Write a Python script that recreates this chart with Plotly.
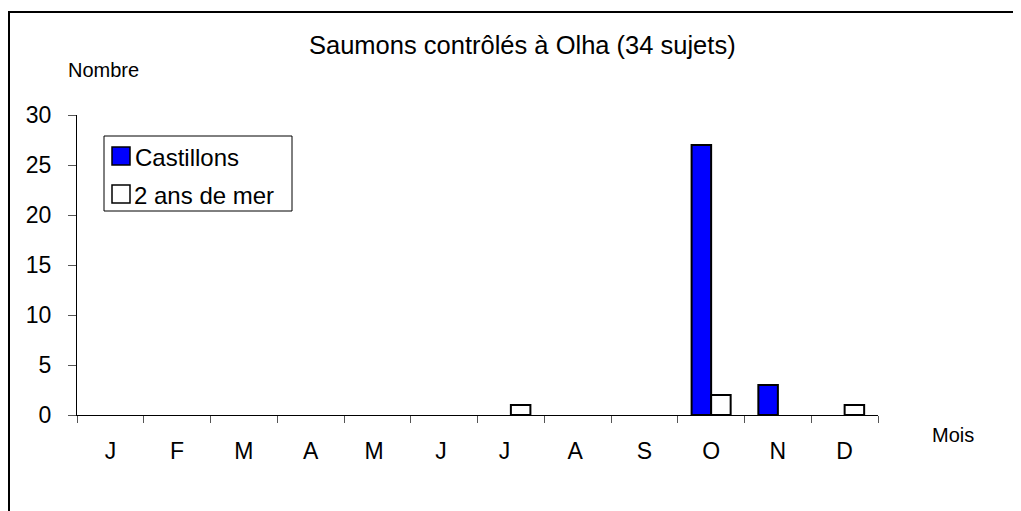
import plotly.graph_objects as go

MONTHS = ["J", "F", "M", "A", "M ", "J ", "J  ", "A ", "S", "O", "N", "D"]
CASTILLONS = [0, 0, 0, 0, 0, 0, 0, 0, 0, 27, 3, 0]
DEUX_ANS = [0, 0, 0, 0, 0, 0, 1, 0, 0, 2, 0, 1]

FONT = "Liberation Sans, Arial, sans-serif"

# plot area in page pixels: x 77..878, y 115..415
def px(x):
    return (x - 77) / 801


def py(y):
    return (415 - y) / 300


fig = go.Figure()
fig.add_trace(go.Bar(
    x=MONTHS, y=CASTILLONS, name="Castillons",
    marker=dict(color="#0000FF",
                line=dict(color="black", width=[2 if v else 0 for v in CASTILLONS])),
))
fig.add_trace(go.Bar(
    x=MONTHS, y=DEUX_ANS, name="2 ans de mer",
    marker=dict(color="white",
                line=dict(color="black", width=[2 if v else 0 for v in DEUX_ANS])),
))

# hand-drawn legend (larger swatches than plotly's)
legend_shapes = [
    dict(type="rect", xref="paper", yref="paper",
         x0=px(104), x1=px(292), y0=py(211), y1=py(136),
         line=dict(color="black", width=1), fillcolor="white", layer="below"),
    dict(type="rect", xref="paper", yref="paper",
         x0=px(112), x1=px(130), y0=py(165), y1=py(147),
         line=dict(color="black", width=1.5), fillcolor="#0000FF"),
    dict(type="rect", xref="paper", yref="paper",
         x0=px(112), x1=px(130), y0=py(203), y1=py(185),
         line=dict(color="black", width=1.5), fillcolor="white"),
]

fig.update_layout(
    width=1013, height=503,
    margin=dict(l=69, r=143, t=107, b=96),
    paper_bgcolor="white", plot_bgcolor="white",
    font=dict(family=FONT, size=23, color="black"),
    barmode="group", bargap=0.415, bargroupgap=0,
    showlegend=False,
    xaxis=dict(
        showline=True, linecolor="black", linewidth=1,
        ticks="outside", tickson="boundaries", ticklen=7, tickcolor="#555",
        ticklabelstandoff=15, showgrid=False, zeroline=False,
    ),
    yaxis=dict(
        range=[0, 30], dtick=5, showline=True, linecolor="black", linewidth=1,
        ticks="outside", ticklen=8, tickcolor="#555",
        ticklabelstandoff=12, showgrid=False, zeroline=False,
    ),
    shapes=[dict(
        type="rect", xref="paper", yref="paper",
        x0=px(9), x1=1.3, y0=-0.5, y1=py(12),
        line=dict(color="black", width=2), fillcolor="rgba(0,0,0,0)",
        layer="below",
    )] + legend_shapes,
    annotations=[
        dict(text="Saumons contrôlés à Olha (34 sujets)", xref="paper", yref="paper",
             x=px(522), y=py(45), xanchor="center", yanchor="middle",
             showarrow=False, font=dict(size=25.5)),
        dict(text="Nombre", xref="paper", yref="paper",
             x=px(66), y=py(70), xanchor="left", yanchor="middle",
             showarrow=False, font=dict(size=20)),
        dict(text="Mois", xref="paper", yref="paper",
             x=px(930), y=py(435), xanchor="left", yanchor="middle",
             showarrow=False, font=dict(size=20)),
        dict(text="Castillons", xref="paper", yref="paper",
             x=px(133), y=py(157), xanchor="left", yanchor="middle",
             showarrow=False, font=dict(size=24)),
        dict(text="2 ans de mer", xref="paper", yref="paper",
             x=px(132), y=py(195), xanchor="left", yanchor="middle",
             showarrow=False, font=dict(size=24)),
    ],
)

fig.write_html("out.html")
